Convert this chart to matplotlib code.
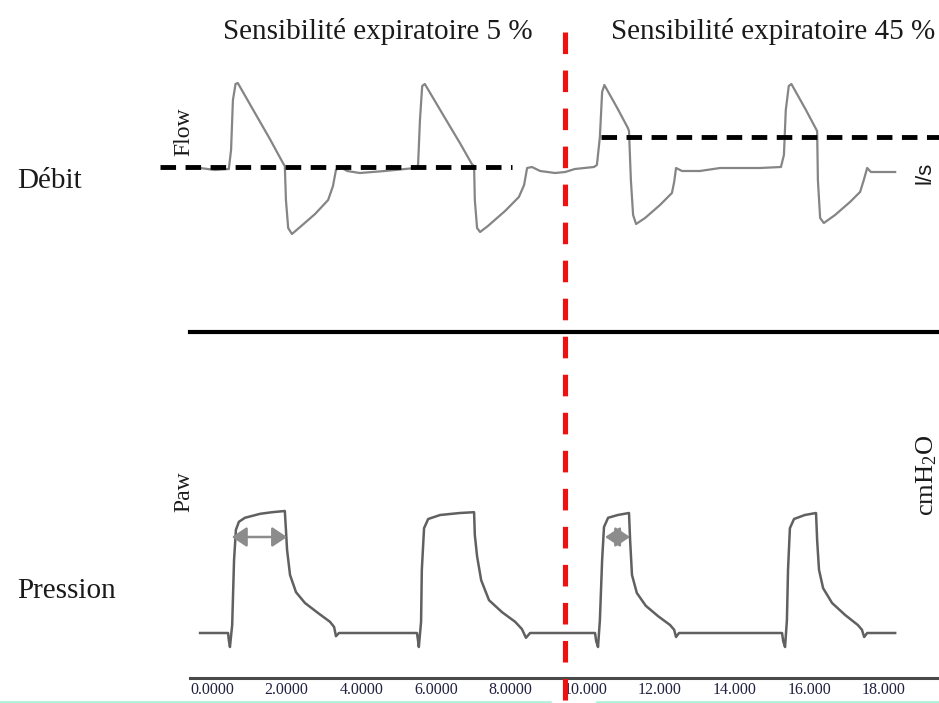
import matplotlib
matplotlib.use("Agg")
import matplotlib.pyplot as plt
from matplotlib.lines import Line2D
from matplotlib.transforms import blended_transform_factory

# flow trace (l/s)
flow_t = [0.27, 0.67, 1.04, 1.10, 1.15, 1.22, 1.28, 1.74, 2.14, 2.49, 2.54, 2.57, 2.63,
          2.73, 2.95, 3.35, 3.70, 3.83, 3.91, 4.02, 4.21, 4.55, 5.22, 6.03, 6.11, 6.16, 6.22,
          6.29, 6.83, 7.23, 7.55, 7.61, 7.63, 7.69, 7.77, 7.98, 8.44, 8.81, 8.95, 9.03,
          9.16, 9.38, 9.78, 10.05, 10.31, 10.82, 10.90, 10.98, 11.04, 11.10, 11.46,
          11.73, 11.76, 11.81, 11.87, 11.95, 12.19, 12.59, 12.91, 12.97, 13.02, 13.18, 13.66,
          14.20, 15.27, 15.83, 15.91, 15.96, 16.04, 16.11, 16.50, 16.77, 16.80, 16.82,
          16.88, 16.98, 17.28, 17.68, 17.95, 18.05, 18.14, 18.24, 18.89]
flow_v = [0.02, 0.00, 0.01, 0.20, 0.70, 0.86, 0.87, 0.57, 0.31, 0.07, 0.04, -0.30, -0.58,
          -0.64, -0.57, -0.44, -0.30, -0.16, 0.00, 0.03, -0.01, -0.03, -0.01, 0.02, 0.05, 0.50, 0.84,
          0.86, 0.52, 0.27, 0.06, 0.04, -0.30, -0.58, -0.62, -0.56, -0.41, -0.27, -0.15, 0.02,
          0.03, -0.01, -0.03, -0.02, 0.01, 0.03, 0.05, 0.33, 0.78, 0.85, 0.61,
          0.42, 0.39, -0.10, -0.45, -0.54, -0.48, -0.35, -0.23, -0.12, 0.02, -0.01, -0.01,
          0.02, 0.02, 0.03, 0.15, 0.60, 0.84, 0.86, 0.60, 0.41, 0.39, -0.10,
          -0.48, -0.53, -0.45, -0.32, -0.22, -0.10, 0.02, -0.02, -0.02]

# pressure trace (cmH2O)
paw_t = [0.27, 1.02, 1.04, 1.07, 1.13, 1.18, 1.23, 1.31, 1.47, 1.88, 2.20, 2.54, 2.57, 2.60,
         2.68, 2.84, 3.08, 3.43, 3.75, 3.86, 3.91, 3.99, 6.08, 6.11, 6.13, 6.19, 6.21, 6.27,
         6.38, 6.70, 7.23, 7.61, 7.63, 7.69, 7.80, 8.01, 8.36, 8.71, 8.89, 9.00, 9.11, 10.85,
         10.88, 10.93, 10.98, 11.04, 11.09, 11.20, 11.46, 11.76, 11.79, 11.84, 11.97, 12.21,
         12.54, 12.86, 12.97, 13.02, 13.10, 15.86, 15.89, 15.94, 15.99, 16.02, 16.07, 16.18,
         16.47, 16.77, 16.80, 16.85, 16.96, 17.20, 17.55, 17.89, 18.00, 18.06, 18.14, 18.89]
paw_v = [5.0, 5.0, 4.1, 3.25, 6.0, 14.1, 17.9, 18.9, 19.4, 19.9, 20.1, 20.25, 17.9, 15.4,
         12.25, 10.1, 8.75, 7.5, 6.4, 5.75, 4.6, 5.0, 5.0, 4.0, 3.25, 6.4, 12.9, 18.1,
         19.25, 19.75, 20.0, 20.1, 17.25, 14.6, 11.6, 9.1, 7.6, 6.4, 5.5, 4.4, 5.0, 5.0,
         4.0, 3.25, 6.6, 14.1, 18.25, 19.4, 19.75, 20.0, 16.6, 12.25, 10.0, 8.4,
         7.1, 6.0, 5.4, 4.5, 5.0, 5.0, 4.0, 3.25, 6.6, 12.9, 18.1, 19.25,
         19.75, 20.0, 16.6, 12.9, 10.6, 8.75, 7.25, 6.0, 5.4, 4.5, 5.0, 5.0]

tick_pos = [0, 2, 4, 6, 8, 10, 12, 14, 16, 18]
tick_labels = ["0.0000", "2.0000", "4.0000", "6.0000", "8.0000",
               "10.000", "12.000", "14.000", "16.000", "18.000"]

# trigger thresholds (dashed lines) and the setting change
thresh_left = 0.03
thresh_right = 0.33
t_switch = 10.05
ti_left = (1.12, 2.60)
ti_right = (11.12, 11.79)
ti_level = 17.0

W, H = 939, 703
def fx(x): return x / W
def fy(y): return 1 - y / H

plt.rcParams['font.family'] = ['Liberation Serif', 'DejaVu Serif']
plt.rcParams['mathtext.fontset'] = 'custom'
plt.rcParams['mathtext.rm'] = 'Liberation Serif'
plt.rcParams['mathtext.it'] = 'Liberation Serif:italic'
fig = plt.figure(figsize=(W / 100, H / 100), dpi=100)
xmax = 749 / 37.33

ax_f = fig.add_axes([fx(190), fy(332), fx(939) - fx(190), fy(60) - fy(332)])
ax_p = fig.add_axes([fx(190), fy(678), fx(939) - fx(190), fy(420) - fy(678)])
for ax in (ax_f, ax_p):
    ax.set_xlim(0, xmax)
    ax.patch.set_alpha(0)
    for s in ('top', 'left', 'right'):
        ax.spines[s].set_visible(False)
    ax.set_yticks([])
ax_f.set_ylim(-1.62, 1.10)
ax_p.set_ylim(-0.625, 31.625)

ax_f.spines['bottom'].set_linewidth(3)
ax_f.spines['bottom'].set_color('black')
ax_f.set_xticks([])
ax_p.spines['bottom'].set_linewidth(2.2)
ax_p.spines['bottom'].set_color('#4a4a4a')
ax_p.set_xticks(tick_pos)
ax_p.set_xticklabels(tick_labels, ha='left', fontsize=11.5, color='#202040')
ax_p.tick_params(axis='x', length=0, pad=3)

ax_f.plot(flow_t, flow_v, color='#858585', lw=1.6, solid_joinstyle='round')
ax_p.plot(paw_t, paw_v, color='#606060', lw=1.8, solid_joinstyle='round')

ax_f.plot([-0.8, 8.63], [thresh_left, thresh_left], color='black', lw=3.5,
          linestyle=(0, (3.2, 1.95)), clip_on=False)
ax_f.plot([11.0, xmax + 0.1], [thresh_right, thresh_right], color='black', lw=3.5,
          linestyle=(0, (3.2, 1.95)), clip_on=False)

for (a, b) in (ti_left, ti_right):
    ax_p.annotate('', xy=(b, ti_level), xytext=(a, ti_level),
                  arrowprops=dict(arrowstyle='<|-|>,head_length=0.45,head_width=0.3',
                                  color='#8c8c8c', lw=1.8, mutation_scale=20,
                                  shrinkA=0, shrinkB=0))

tr = blended_transform_factory(ax_p.transData, fig.transFigure)
fig.add_artist(Line2D([t_switch, t_switch], [fy(32), fy(703)], transform=tr,
                      color='#ee1111', lw=3.7, linestyle=(0, (4.2, 3.2))))

# light green strip at bottom edge
fig.add_artist(Line2D([0, fx(550)], [fy(701.5)] * 2, color='#a6f3d6', lw=1.8))
fig.add_artist(Line2D([fx(597), 1], [fy(701.5)] * 2, color='#a6f3d6', lw=1.8))

txt = dict(color='#1a1a1a')
fig.text(fx(223), fy(39), "Sensibilité expiratoire 5 %", fontsize=21, va='baseline', **txt)
fig.text(fx(611), fy(39), "Sensibilité expiratoire 45 %", fontsize=21, va='baseline', **txt)
fig.text(fx(17), fy(188), "Débit", fontsize=21, va='baseline', **txt)
fig.text(fx(17), fy(598), "Pression", fontsize=21, va='baseline', **txt)
fig.text(fx(184), fy(132), "Flow", fontsize=17, rotation=90, ha='center', va='center', **txt)
fig.text(fx(184), fy(492), "Paw", fontsize=17, rotation=90, ha='center', va='center', **txt)
fig.text(fx(925), fy(173), "l/s", fontsize=16, rotation=90, ha='center', va='center',
         family=['Liberation Sans', 'DejaVu Sans'], **txt)
fig.text(fx(927), fy(475), "cmH$_2$O", fontsize=19, rotation=90, ha='center', va='center',
         **txt)

fig.savefig("out.png", dpi=100)
